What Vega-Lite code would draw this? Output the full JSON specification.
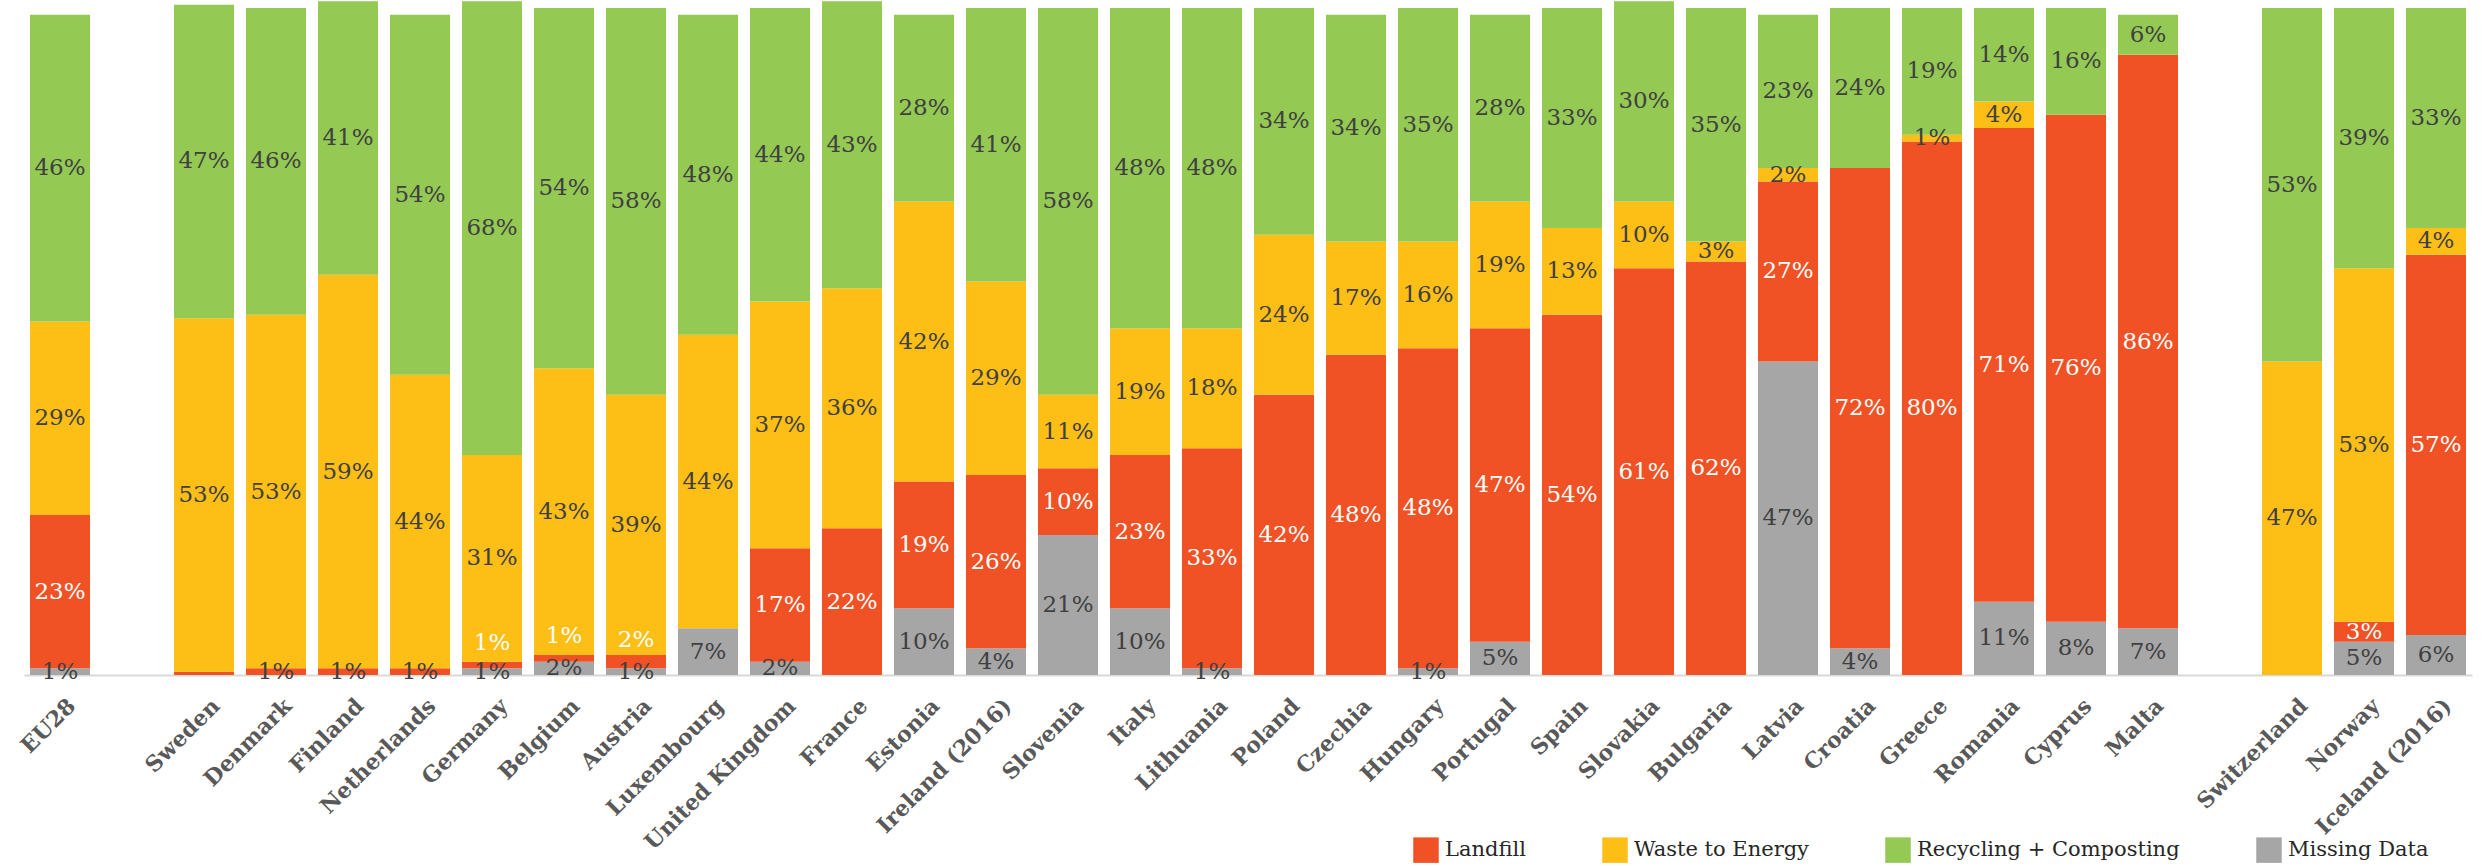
{
  "$schema": "https://vega.github.io/schema/vega-lite/v6.json",
  "width": 2448,
  "height": 667,
  "autosize": {"type": "none"},
  "padding": {"left": 24, "top": 8, "right": 11, "bottom": 191},
  "background": "white",
  "config": {"view": {"stroke": null}, "font": "DejaVu Serif"},
  "data": {
    "values": [
      {"country": "EU28", "missing": 1, "landfill": 23, "wte": 29, "recycling": 46},
      {"country": "Sweden", "missing": 0, "landfill": 0.5, "wte": 53, "recycling": 47},
      {"country": "Denmark", "missing": 0, "landfill": 1, "wte": 53, "recycling": 46},
      {"country": "Finland", "missing": 0, "landfill": 1, "wte": 59, "recycling": 41},
      {"country": "Netherlands", "missing": 0, "landfill": 1, "wte": 44, "recycling": 54},
      {"country": "Germany", "missing": 1, "landfill": 1, "wte": 31, "recycling": 68},
      {"country": "Belgium", "missing": 2, "landfill": 1, "wte": 43, "recycling": 54},
      {"country": "Austria", "missing": 1, "landfill": 2, "wte": 39, "recycling": 58},
      {"country": "Luxembourg", "missing": 7, "landfill": 0, "wte": 44, "recycling": 48},
      {"country": "United Kingdom", "missing": 2, "landfill": 17, "wte": 37, "recycling": 44},
      {"country": "France", "missing": 0, "landfill": 22, "wte": 36, "recycling": 43},
      {"country": "Estonia", "missing": 10, "landfill": 19, "wte": 42, "recycling": 28},
      {"country": "Ireland (2016)", "missing": 4, "landfill": 26, "wte": 29, "recycling": 41},
      {"country": "Slovenia", "missing": 21, "landfill": 10, "wte": 11, "recycling": 58},
      {"country": "Italy", "missing": 10, "landfill": 23, "wte": 19, "recycling": 48},
      {"country": "Lithuania", "missing": 1, "landfill": 33, "wte": 18, "recycling": 48},
      {"country": "Poland", "missing": 0, "landfill": 42, "wte": 24, "recycling": 34},
      {"country": "Czechia", "missing": 0, "landfill": 48, "wte": 17, "recycling": 34},
      {"country": "Hungary", "missing": 1, "landfill": 48, "wte": 16, "recycling": 35},
      {"country": "Portugal", "missing": 5, "landfill": 47, "wte": 19, "recycling": 28},
      {"country": "Spain", "missing": 0, "landfill": 54, "wte": 13, "recycling": 33},
      {"country": "Slovakia", "missing": 0, "landfill": 61, "wte": 10, "recycling": 30},
      {"country": "Bulgaria", "missing": 0, "landfill": 62, "wte": 3, "recycling": 35},
      {"country": "Latvia", "missing": 47, "landfill": 27, "wte": 2, "recycling": 23},
      {"country": "Croatia", "missing": 4, "landfill": 72, "wte": 0, "recycling": 24},
      {"country": "Greece", "missing": 0, "landfill": 80, "wte": 1, "recycling": 19},
      {"country": "Romania", "missing": 11, "landfill": 71, "wte": 4, "recycling": 14},
      {"country": "Cyprus", "missing": 8, "landfill": 76, "wte": 0, "recycling": 16},
      {"country": "Malta", "missing": 7, "landfill": 86, "wte": 0, "recycling": 6},
      {"country": "Switzerland", "missing": 0, "landfill": 0, "wte": 47, "recycling": 53},
      {"country": "Norway", "missing": 5, "landfill": 3, "wte": 53, "recycling": 39},
      {"country": "Iceland (2016)", "missing": 6, "landfill": 57, "wte": 4, "recycling": 33}
    ]
  },
  "transform": [
    {"fold": ["missing", "landfill", "wte", "recycling"], "as": ["key", "value"]},
    {"calculate": "indexof(['missing','landfill','wte','recycling'], datum.key)", "as": "ord"},
    {"calculate": "['Missing Data','Landfill','Waste to Energy','Recycling + Composting'][datum.ord]", "as": "category"},
    {"stack": "value", "groupby": ["country"], "sort": [{"field": "ord", "order": "ascending"}], "as": ["v0", "v1"]},
    {"calculate": "(datum.v0 + datum.v1) / 2", "as": "mid"},
    {"calculate": "format(datum.value, '.0f') + '%'", "as": "label"}
  ],
  "encoding": {
    "x": {
      "field": "country",
      "type": "nominal",
      "scale": {
        "domain": ["EU28", "gap1", "Sweden", "Denmark", "Finland", "Netherlands", "Germany", "Belgium", "Austria", "Luxembourg", "United Kingdom", "France", "Estonia", "Ireland (2016)", "Slovenia", "Italy", "Lithuania", "Poland", "Czechia", "Hungary", "Portugal", "Spain", "Slovakia", "Bulgaria", "Latvia", "Croatia", "Greece", "Romania", "Cyprus", "Malta", "gap2", "Switzerland", "Norway", "Iceland (2016)"],
        "paddingInner": 0.1667,
        "paddingOuter": 0.0833
      },
      "axis": {
        "title": null,
        "labelAngle": -45,
        "labelAlign": "right",
        "labelBaseline": "middle",
        "labelFont": "DejaVu Serif",
        "labelFontWeight": "bold",
        "labelFontSize": 22,
        "labelColor": "#595959",
        "labelPadding": 27,
        "labelOffset": 12,
        "labelLimit": 400,
        "labelOverlap": false,
        "ticks": false,
        "domainColor": "#D9D9D9",
        "domainWidth": 2,
        "labelExpr": "indexof(datum.value, 'gap') == 0 ? '' : datum.value"
      }
    }
  },
  "layer": [
    {
      "mark": {"type": "bar"},
      "encoding": {
        "y": {"field": "v0", "type": "quantitative", "scale": {"domain": [0, 100], "nice": false, "zero": true}, "axis": null},
        "y2": {"field": "v1"},
        "color": {
          "field": "category",
          "type": "nominal",
          "scale": {
            "domain": ["Landfill", "Waste to Energy", "Recycling + Composting", "Missing Data"],
            "range": ["#F05225", "#FDBE15", "#94C954", "#A6A6A6"]
          },
          "legend": {
            "orient": "none",
            "legendX": 1389,
            "legendY": 829,
            "direction": "horizontal",
            "columns": 4,
            "title": null,
            "symbolType": "square",
            "symbolSize": 650,
            "symbolStrokeWidth": 0,
            "symbolOpacity": 1,
            "labelFont": "DejaVu Serif",
            "labelFontSize": 21,
            "labelColor": "#262626",
            "labelOffset": 6,
            "labelLimit": 400,
            "columnPadding": 76
          }
        }
      }
    },
    {
      "transform": [{"filter": "datum.value >= 1 && (datum.key != 'landfill' || (datum.value < 3 && datum.missing == 0))"}],
      "mark": {"type": "text", "font": "DejaVu Serif", "fontSize": 23, "baseline": "middle", "align": "center", "fill": "#404040"},
      "encoding": {
        "y": {"field": "mid", "type": "quantitative"},
        "text": {"field": "label", "type": "nominal"}
      }
    },
    {
      "transform": [{"filter": "datum.key == 'landfill' && datum.value >= 3"}],
      "mark": {"type": "text", "font": "DejaVu Serif", "fontSize": 23, "baseline": "middle", "align": "center", "fill": "white"},
      "encoding": {
        "y": {"field": "mid", "type": "quantitative"},
        "text": {"field": "label", "type": "nominal"}
      }
    },
    {
      "transform": [{"filter": "datum.key == 'landfill' && datum.value >= 1 && datum.value < 3 && datum.missing > 0"}],
      "mark": {"type": "text", "font": "DejaVu Serif", "fontSize": 23, "baseline": "middle", "align": "center", "fill": "white", "dy": -22},
      "encoding": {
        "y": {"field": "mid", "type": "quantitative"},
        "text": {"field": "label", "type": "nominal"}
      }
    }
  ]
}
